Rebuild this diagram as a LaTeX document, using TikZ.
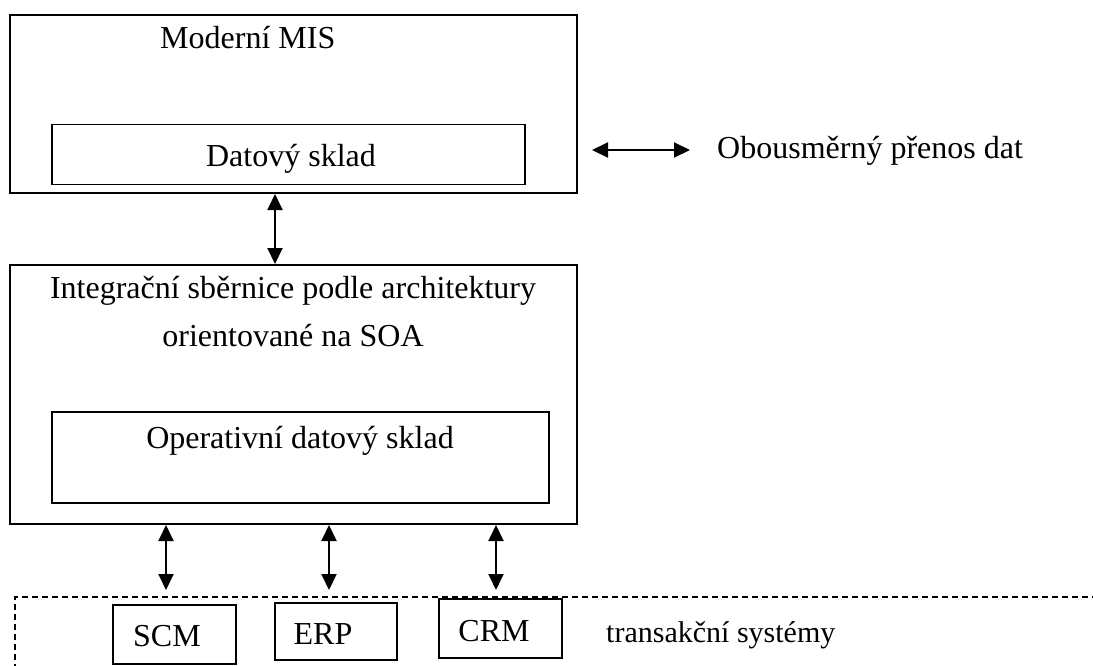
\documentclass[tikz,border=0pt]{standalone}
\usepackage{fontspec}
\setmainfont{Liberation Serif}
\usetikzlibrary{arrows.meta}

\tikzset{
  frame/.style={draw, line width=2pt, rectangle, inner sep=0pt},
  inbox/.style={draw, line width=1.6pt, rectangle, inner sep=0pt},
  lbl/.style={inner sep=0pt, anchor=base, font=\fontsize{32}{38}\selectfont},
  lblw/.style={lbl, anchor=base west},
  biarrow/.style={line width=2pt, {Triangle[length=16pt,width=15pt]}-{Triangle[length=16pt,width=15pt]}},
  region/.style={line width=2pt, dash pattern=on 6pt off 4pt},
}

\begin{document}
\begin{tikzpicture}[x=1pt, y=-1pt]
  \useasboundingbox (0,0) rectangle (1093,665);

  % upper layer: management information system
  \node[frame, minimum width=567pt, minimum height=178pt] (mis) at (293.5,104) {};
  \node[inbox, minimum width=473pt, minimum height=60pt] (dw) at (288.5,154.5) {};
  \node[lblw] (mistxt) at (160,48) {Moderní MIS};
  \node[lbl] (dwtxt) at (291,166) {Datový sklad};

  % middle layer: integration bus
  \node[frame, minimum width=567pt, minimum height=259pt] (soa) at (293.5,394.5) {};
  \node[inbox, minimum width=497pt, minimum height=91pt] (ods) at (300.5,457.5) {};
  \node[lbl] (soatxt1) at (293,298) {Integrační sběrnice podle architektury};
  \node[lbl] (soatxt2) at (293,346) {orientované na SOA};
  \node[lbl] (odstxt) at (300,448) {Operativní datový sklad};

  % lower layer: transaction systems
  \draw[region] (15,700) coordinate (tsysbl) -- (15,597) coordinate (tsys) -- (1110,597) coordinate (tsysr);
  \node[inbox, minimum width=123pt, minimum height=59pt] (scm) at (174.5,634.5) {};
  \node[inbox, minimum width=122pt, minimum height=57pt] (erp) at (336,631.5) {};
  \node[inbox, minimum width=123pt, minimum height=59pt] (crm) at (500.5,628.5) {};
  \node[lbl] (scmtxt) at (167,646) {SCM};
  \node[lbl] (erptxt) at (323,644) {ERP};
  \node[lbl] (crmtxt) at (494,641) {CRM};
  \node[lblw, font=\fontsize{30}{36}\selectfont] (tstxt) at (606,642) {transakční systémy};

  % data flows
  \coordinate (up) at (275,0);
  \draw[biarrow] (mis.south -| up) -- (soa.north -| up);
  \coordinate (e1) at (166,590);
  \coordinate (e2) at (329,590);
  \coordinate (e3) at (496,590);
  \draw[biarrow] (soa.south -| e1) -- (e1);
  \draw[biarrow] (soa.south -| e2) -- (e2);
  \draw[biarrow] (soa.south -| e3) -- (e3);

  % legend
  \coordinate (legl) at (592,150);
  \coordinate (legr) at (690,150);
  \draw[biarrow] (legl) -- (legr);
  \node[lblw] (legtxt) at (717,158) {Obousměrný přenos dat};
\end{tikzpicture}
\end{document}
